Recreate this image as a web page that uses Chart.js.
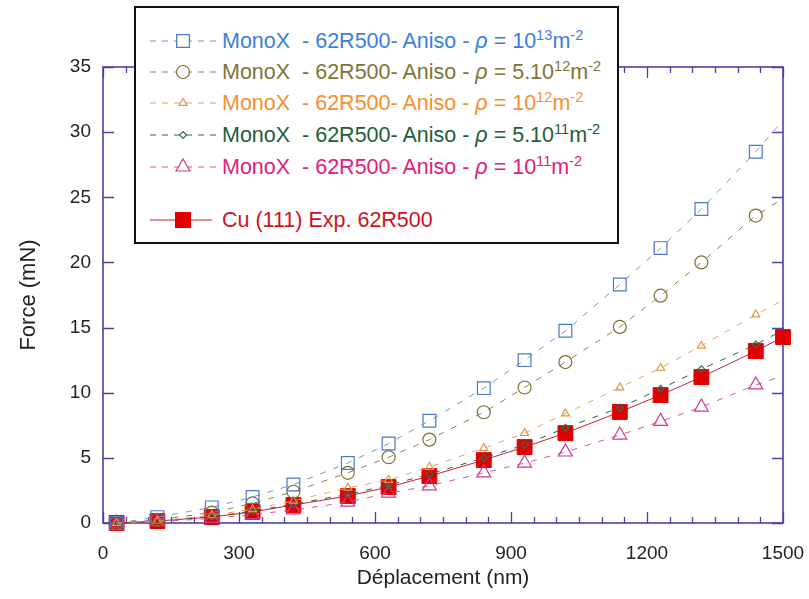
<!DOCTYPE html>
<html>
<head>
<meta charset="utf-8">
<script src="https://cdn.jsdelivr.net/npm/chart.js@4.4.1/dist/chart.umd.min.js"></script>
<style>
  html, body { margin:0; padding:0; background:#fff; }
  #wrap { position:relative; width:809px; height:599px; }
  #c { position:absolute; left:0; top:0; }
  #legend { position:absolute; left:134px; top:6px; width:481px; height:234px; border:2px solid #111; background:#fff;
            font-family:'Liberation Sans', Arial, sans-serif; font-size:21.5px; }
  .row { position:absolute; left:0; height:30px; line-height:30px; white-space:pre; }
  .row svg { position:absolute; left:14px; top:0; }
  .row span.t { position:absolute; left:86px; top:0; }
  .sup { font-size:0.68em; position:relative; top:-0.55em; }
  .rho { font-style:italic; }
</style>
</head>
<body>
<div id="wrap">
<canvas id="c" width="809" height="599"></canvas>
<div id="legend"></div>
</div>
<script>
// ---- data ----
const displacement = [30, 120, 240, 330, 420, 540, 630, 720, 840, 930, 1020, 1140, 1230, 1320, 1440, 1500];
const force_rho1e13 = [0, 0.45, 1.2, 2.0, 2.95, 4.6, 6.1, 7.85, 10.35, 12.5, 14.75, 18.3, 21.1, 24.1, 28.5, 30.9];
const force_rho5e12 = [0, 0.25, 0.8, 1.5, 2.4, 3.85, 5.05, 6.4, 8.5, 10.4, 12.35, 15.05, 17.45, 20.0, 23.6, 24.9];
const force_rho1e12 = [0, 0.15, 0.6, 1.05, 1.7, 2.7, 3.3, 4.3, 5.75, 6.9, 8.4, 10.4, 11.9, 13.6, 16.0, 17.1];
const force_rho5e11 = [0, 0.15, 0.5, 0.9, 1.45, 2.2, 2.9, 3.75, 5.0, 6.0, 7.3, 8.85, 10.3, 11.8, 13.7, 14.8];
const force_rho1e11 = [0, 0.1, 0.35, 0.65, 1.0, 1.6, 2.3, 2.85, 3.85, 4.6, 5.45, 6.75, 7.8, 8.9, 10.6, 11.3];
const force_exp     = [0, 0.15, 0.46, 0.85, 1.38, 2.07, 2.76, 3.6, 4.83, 5.83, 6.9, 8.52, 9.82, 11.2, 13.2, 14.27];
const xTicks = [0, 300, 600, 900, 1200, 1500];
const yTicks = [0, 5, 10, 15, 20, 25, 30, 35];
const xMinorStep = 50;
const seriesLabels = [
  'MonoX  - 62R500- Aniso - ρ = 10^13m^-2',
  'MonoX  - 62R500- Aniso - ρ = 5.10^12m^-2',
  'MonoX  - 62R500- Aniso - ρ = 10^12m^-2',
  'MonoX  - 62R500- Aniso - ρ = 5.10^11m^-2',
  'MonoX  - 62R500- Aniso - ρ = 10^11m^-2',
  'Cu (111) Exp. 62R500'
];
const xTitle = 'Déplacement (nm)';
const yTitle = 'Force (mN)';

// ---- styles ----
const AXIS = '#4a40a8';
const FONT = "'Liberation Sans', Arial, sans-serif";
const styles = [
  { line:'#6f95d8', pt:'#4a78cc', text:'#3b7ee0', shape:'rect', r:9, dash:[6,8] },
  { line:'#8c8245', pt:'#7a6f30', text:'#7d7536', shape:'circle', r:6.5, dash:[6,8] },
  { line:'#eaa060', pt:'#dc9a4a', text:'#f59030', shape:'triangle', r:4.6, dash:[6,8] },
  { line:'#2a6040', pt:'#3d6a50', text:'#1c5e3a', shape:'rectRot', r:3.5, dash:[6,8] },
  { line:'#d2559a', pt:'#c83c90', text:'#e0207d', shape:'triangle', r:8, dash:[6,8] },
  { line:'#c82030', pt:'#e00000', text:'#d0101c', shape:'rect', r:10.5, dash:[] }
];
const seriesData = [force_rho1e13, force_rho5e12, force_rho1e12, force_rho5e11, force_rho1e11, force_exp];

const datasets = seriesData.map((arr, i) => {
  const s = styles[i];
  const isExp = i === 5;
  return {
    label: seriesLabels[i],
    data: displacement.map((x, k) => ({ x, y: arr[k] })),
    borderColor: s.line,
    borderWidth: 1,
    borderDash: s.dash,
    pointStyle: s.shape,
    pointRadius: displacement.map((x, k) => (!isExp && k === displacement.length - 1) ? 0 : s.r),
    pointBorderColor: s.pt,
    pointBackgroundColor: isExp ? s.pt : 'rgba(255,255,255,0)',
    pointBorderWidth: isExp ? 1 : 1.2,
    tension: 0,
    fill: false,
    clip: false
  };
});

const framePlugin = {
  id: 'frame',
  beforeDatasetsDraw(chart) {
    const { ctx, chartArea: a, scales: { x, y } } = chart;
    ctx.save();
    ctx.strokeStyle = AXIS;
    ctx.lineWidth = 1.6;
    ctx.strokeRect(a.left, a.top, a.right - a.left, a.bottom - a.top);
    ctx.lineWidth = 1.3;
    ctx.beginPath();
    const xMax = xTicks[xTicks.length - 1];
    for (let v = xTicks[0]; v <= xMax; v += xMinorStep) {
      const px = Math.round(x.getPixelForValue(v)) + 0.5;
      const L = xTicks.includes(v) ? 11 : 6;
      ctx.moveTo(px, a.bottom); ctx.lineTo(px, a.bottom - L);
      ctx.moveTo(px, a.top); ctx.lineTo(px, a.top + L);
    }
    yTicks.forEach(v => {
      const py = Math.round(y.getPixelForValue(v)) + 0.5;
      ctx.moveTo(a.left, py); ctx.lineTo(a.left + 11, py);
      ctx.moveTo(a.right, py); ctx.lineTo(a.right - 11, py);
    });
    ctx.stroke();
    ctx.restore();
  }
};

new Chart(document.getElementById('c'), {
  type: 'line',
  data: { datasets },
  options: {
    responsive: false,
    animation: false,
    layout: { padding: { top: 67, right: 26, left: 0, bottom: 0 } },
    plugins: { legend: { display: false }, tooltip: { enabled: false } },
    scales: {
      x: {
        type: 'linear', min: xTicks[0], max: xTicks[xTicks.length - 1],
        afterBuildTicks: s => { s.ticks = xTicks.map(v => ({ value: v })); },
        afterFit: s => { s.height = 76; s.paddingLeft = 0; s.paddingRight = 0; },
        grid: { display: false, drawTicks: false },
        border: { display: false },
        ticks: { color: '#222', font: { family: FONT, size: 19 }, padding: 19, maxRotation: 0, callback: v => String(v) },
        title: { display: true, text: xTitle, color: '#222', font: { family: FONT, size: 21 }, padding: { top: 0, bottom: 8 } }
      },
      y: {
        type: 'linear', min: yTicks[0], max: yTicks[yTicks.length - 1],
        afterBuildTicks: s => { s.ticks = yTicks.map(v => ({ value: v })); },
        afterFit: s => { s.width = 103; s.paddingTop = 0; s.paddingBottom = 0; },
        grid: { display: false, drawTicks: false },
        border: { display: false },
        ticks: { color: '#222', font: { family: FONT, size: 19 }, padding: 12, callback: v => String(v) },
        title: { display: true, text: yTitle, color: '#222', font: { family: FONT, size: 22 }, padding: { top: 16, bottom: 0 } }
      }
    }
  },
  plugins: [framePlugin]
});

// ---- HTML legend ----
const rowCenters = [41, 72, 103, 135, 167, 220];
function fmt(label) {
  return label
    .replace(/&/g, '&amp;')
    .replace('ρ', '<span class="rho">ρ</span>')
    .replace(/\^(-?\d+)/g, '<span class="sup">$1</span>');
}
function sampleSvg(i) {
  const s = styles[i];
  const cy = 15, cx = 33;
  let line;
  if (s.dash.length) {
    line = `<line x1="0" y1="${cy}" x2="66" y2="${cy}" stroke="${s.line}" stroke-width="1" stroke-dasharray="6,6"/>`;
  } else {
    line = `<line x1="0" y1="${cy}" x2="62" y2="${cy}" stroke="${s.line}" stroke-width="1.2"/>`;
  }
  let m = '';
  const fillOk = i === 5 ? s.pt : '#fff';
  if (s.shape === 'rect') {
    const h = s.r * Math.SQRT1_2;
    m = `<rect x="${cx - h}" y="${cy - h}" width="${2*h}" height="${2*h}" fill="${fillOk}" stroke="${s.pt}" stroke-width="1.2"/>`;
  } else if (s.shape === 'circle') {
    m = `<circle cx="${cx}" cy="${cy}" r="${s.r}" fill="#fff" stroke="${s.pt}" stroke-width="1.2"/>`;
  } else if (s.shape === 'triangle') {
    const r = s.r;
    const pts = [[cx, cy - r], [cx + r*0.866, cy + r*0.5], [cx - r*0.866, cy + r*0.5]].map(p => p.join(',')).join(' ');
    m = `<polygon points="${pts}" fill="#fff" stroke="${s.pt}" stroke-width="1.2"/>`;
  } else if (s.shape === 'rectRot') {
    const r = s.r;
    const pts = [[cx, cy - r], [cx + r, cy], [cx, cy + r], [cx - r, cy]].map(p => p.join(',')).join(' ');
    m = `<polygon points="${pts}" fill="#fff" stroke="${s.pt}" stroke-width="1.2"/>`;
  }
  return `<svg width="72" height="30" viewBox="0 0 72 30">${line}${m}</svg>`;
}
const leg = document.getElementById('legend');
seriesLabels.forEach((lab, i) => {
  const row = document.createElement('div');
  row.className = 'row';
  row.style.top = (rowCenters[i] - 15 - 8) + 'px';
  row.style.color = styles[i].text;
  row.innerHTML = sampleSvg(i) + `<span class="t">${fmt(lab)}</span>`;
  leg.appendChild(row);
});
</script>
</body>
</html>
